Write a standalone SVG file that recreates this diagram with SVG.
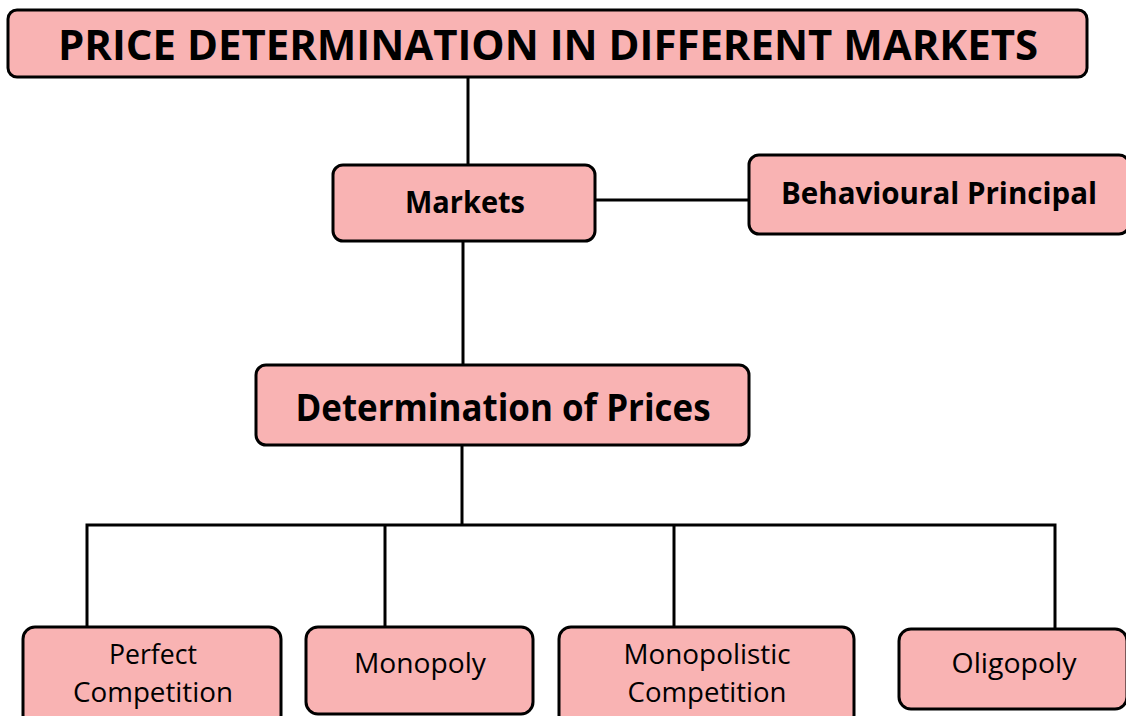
<svg xmlns="http://www.w3.org/2000/svg" width="1126" height="716" viewBox="0 0 1126 716">
<style>
.box{fill:#f9b3b3;stroke:#000;stroke-width:3}
.b{font-family:"Open Sans","Noto Sans",sans-serif;font-weight:bold;fill:#000;text-anchor:middle}
.r{font-family:"Open Sans","Noto Sans",sans-serif;font-size:27px;fill:#000;text-anchor:middle}
.c{stroke:#000;stroke-width:3;fill:none}
</style>
<rect width="1126" height="716" fill="#fff"/>
<g id="connectors">
<line class="c" x1="468" y1="77" x2="468" y2="165"/>
<line class="c" x1="596" y1="200" x2="749" y2="200"/>
<line class="c" x1="463" y1="241" x2="463" y2="365"/>
<line class="c" x1="462" y1="445" x2="462" y2="525"/>
<polyline class="c" points="87,627 87,525 1055,525 1055,629"/>
<line class="c" x1="385" y1="525" x2="385" y2="627"/>
<line class="c" x1="674" y1="525" x2="674" y2="627"/>
</g>
<g id="title">
<rect class="box" x="8" y="10" width="1079" height="67" rx="9"/>
<text class="b" x="548" y="60" font-size="42" textLength="980" lengthAdjust="spacingAndGlyphs">PRICE DETERMINATION IN DIFFERENT MARKETS</text>
</g>
<g id="markets">
<rect class="box" x="333" y="165" width="262" height="76" rx="10"/>
<text class="b" x="465" y="213" font-size="30" textLength="120" lengthAdjust="spacingAndGlyphs">Markets</text>
</g>
<g id="behavioural">
<rect class="box" x="749" y="155" width="380" height="79" rx="10"/>
<text class="b" x="939" y="204" font-size="31" textLength="316" lengthAdjust="spacingAndGlyphs">Behavioural Principal</text>
</g>
<g id="determination">
<rect class="box" x="256" y="365" width="493" height="80" rx="10"/>
<text class="b" x="503" y="421" font-size="38" textLength="415" lengthAdjust="spacingAndGlyphs">Determination of Prices</text>
</g>
<g id="perfect">
<rect class="box" x="23" y="627" width="258" height="100" rx="12"/>
<text class="r" x="153" y="664" textLength="88" lengthAdjust="spacingAndGlyphs">Perfect</text>
<text class="r" x="153" y="702" textLength="160" lengthAdjust="spacingAndGlyphs">Competition</text>
</g>
<g id="monopoly">
<rect class="box" x="306" y="627" width="227" height="87" rx="12"/>
<text class="r" x="420" y="673" textLength="132" lengthAdjust="spacingAndGlyphs">Monopoly</text>
</g>
<g id="monopolistic">
<rect class="box" x="559" y="627" width="295" height="100" rx="12"/>
<text class="r" x="707" y="664" textLength="167" lengthAdjust="spacingAndGlyphs">Monopolistic</text>
<text class="r" x="707" y="702" textLength="159" lengthAdjust="spacingAndGlyphs">Competition</text>
</g>
<g id="oligopoly">
<rect class="box" x="899" y="629" width="228" height="80" rx="12"/>
<text class="r" x="1014" y="673" textLength="125" lengthAdjust="spacingAndGlyphs">Oligopoly</text>
</g>
</svg>
